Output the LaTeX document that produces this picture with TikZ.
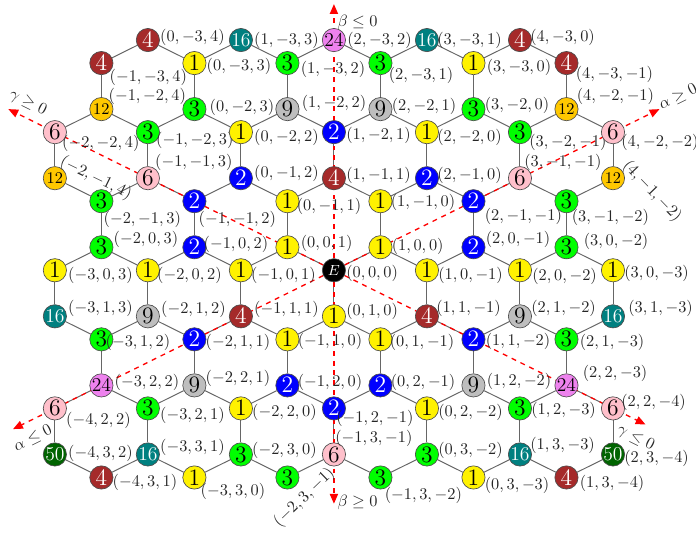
\documentclass[tikz,border=0pt]{standalone}
\usepackage{amsmath}
\usetikzlibrary{arrows.meta, backgrounds}
\definecolor{hexbrown}{RGB}{165,42,42}
\definecolor{hexpink}{RGB}{255,192,203}
\definecolor{hexgray}{RGB}{190,190,190}
\definecolor{hexgold}{RGB}{255,200,0}
\definecolor{hexviolet}{RGB}{238,130,238}
\definecolor{hexdkgreen}{RGB}{0,100,0}
\tikzset{
  hex node/.style={
    circle, draw=black!70, line width=0.4pt,
    minimum size=0.5cm, inner sep=0pt
  },
  hex v1/.style={hex node, fill=yellow, font=\Large},
  hex v2/.style={hex node, fill=blue, text=white, font=\Large},
  hex v3/.style={hex node, fill=green, font=\Large},
  hex v4/.style={hex node, fill=hexbrown, text=white, font=\Large},
  hex v6/.style={hex node, fill=hexpink, font=\Large},
  hex v9/.style={hex node, fill=hexgray, font=\Large},
  hex v12/.style={hex node, fill=hexgold, font=\normalsize},
  hex v16/.style={hex node, fill=teal, text=white, font=\large},
  hex v24/.style={hex node, fill=hexviolet, font=\large},
  hex v50/.style={hex node, fill=hexdkgreen, text=white, font=\large},
  hex vE/.style={hex node, fill=black, text=white, font=\small},
  hex link/.style={draw=black!60, line width=0.6pt},
  hex label/.style={anchor=west, inner sep=0pt, text=black!85},
  hex axis/.style={red, dashed, line width=0.8pt, -{Triangle[length=6pt,width=5pt]}},
  axis label/.style={inner sep=0pt, text=black!85}
}
% vertices: a/b/c/value/label dx/label dy (px)/label rotation
\def\hexlist{%
 0/-3/4/4/12/-3/0, 1/-3/3/16/13/0/0, 2/-3/2/24/13/0/0, 3/-3/1/16/10/0/0, 4/-3/0/4/10/-3/0,
 -1/-3/4/4/8/14/0, 0/-3/3/1/12/3/0, 1/-3/2/3/13/6/0, 2/-3/1/3/8/12/0, 3/-3/0/1/13/4/0, 4/-3/-1/4/9/11/0,
 -1/-2/4/12/7/-13/0, 0/-2/3/3/15/-2/0, 1/-2/2/9/14/-6/0, 2/-2/1/9/11/-3/0, 3/-2/0/3/11/-4/0, 4/-2/-1/12/10/-13/0,
 -2/-2/4/6/7/11/0, -1/-2/3/3/8/8/0, 0/-2/2/1/13/5/0, 1/-2/1/2/12/3/0, 2/-2/0/1/10/5/0, 3/-2/-1/3/9/10/0, 4/-2/-2/6/8/10/0,
 -2/-1/4/12/6/-17/-26, -1/-1/3/6/7/-16/0, 0/-1/2/2/13/-5/0, 1/-1/1/4/12/-3/0, 2/-1/0/2/10/-3/0, 3/-1/-1/6/4/-16/0, 4/-1/-2/12/12/-15/-46,
 -2/-1/3/3/2/18/0, -1/-1/2/2/4/18/0, 0/-1/1/1/9/5/0, 1/-1/0/1/10/1/0, 2/-1/-1/2/11/15/0, 3/-1/-2/3/5/16/0,
 -2/0/3/3/12/-8/0, -1/0/2/2/9/-3/0, 0/0/1/1/13/-4/0, 1/0/0/1/11/-1/0, 2/0/-1/2/12/-8/0, 3/0/-2/3/17/-6/0,
 -3/0/3/1/13/5/0, -2/0/2/1/9/5/0, -1/0/1/1/10/5/0, 0/0/0/E/12/3/0, 1/0/-1/1/11/5/0, 2/0/-2/1/12/6/0, 3/0/-3/1/11/3/0,
 -3/1/3/16/13/-8/0, -2/1/2/9/13/-7/0, -1/1/1/4/13/-7/0, 0/1/0/1/12/-5/0, 1/1/-1/4/9/-8/0, 2/1/-2/9/11/-8/0, 3/1/-3/16/15/-8/0,
 -3/1/2/3/4/3/0, -2/1/1/2/11/3/0, -1/1/0/1/10/2/0, 0/1/-1/1/9/3/0, 1/1/-2/2/12/2/0, 2/1/-3/3/13/3/0,
 -3/2/2/24/13/-3/0, -2/2/1/9/11/-7/0, -1/2/0/2/10/-3/0, 0/2/-1/2/10/-3/0, 1/2/-2/9/13/-4/0, 2/2/-3/24/16/-12/0,
 -4/2/2/6/11/12/0, -3/2/1/3/12/7/0, -2/2/0/1/11/4/0, -1/2/-1/2/2/10/0, 0/2/-2/1/11/4/0, 1/2/-3/3/11/2/0, 2/2/-4/6/8/-6/0,
 -4/3/2/50/13/-1/0, -3/3/1/16/12/-7/0, -2/3/0/3/11/-4/0, -1/3/-1/6/1/-16/0, 0/3/-2/3/11/-4/0, 1/3/-3/16/10/-9/0, 2/3/-4/50/11/4/0,
 -4/3/1/4/11/5/0, -3/3/0/1/6/14/0, -2/3/-1/3/-11/47/44, -1/3/-2/3/4/18/0, 0/3/-3/1/11/8/0, 1/3/-4/4/13/6/0}
\begin{document}
\begin{tikzpicture}[x=1cm, y=0.99cm]
\useasboundingbox (-7.18,-5.74) rectangle (7.785,5.87);

% ====== lattice points with their labels ======
\foreach \a/\b/\c/\v/\dx/\dy/\r in \hexlist {
  \node[hex v\v] (n\a\b\c) at ({\a-\c},{(\a+\c)/2-\b}) {$\v$};
  \node[hex label, rotate=\r] (l\a\b\c)
    at ([xshift=\dx*0.612pt, yshift={-(\dy)*0.612pt}]n\a\b\c.center) {$(\a,\b,\c)$};
}

\begin{scope}[on background layer]
% ====== links: from each even point to its three neighbours ======
\foreach \a/\b/\c/\v/\dx/\dy/\r in \hexlist {
  \pgfmathtruncatemacro\hsum{\a+\b+\c}
  \ifnum\hsum=0
    \pgfmathtruncatemacro\ap{\a+1}
    \pgfmathtruncatemacro\bp{\b+1}
    \pgfmathtruncatemacro\cp{\c+1}
    \ifcsname pgf@sh@ns@n\ap\b\c\endcsname \draw[hex link] (n\a\b\c) -- (n\ap\b\c); \fi
    \ifcsname pgf@sh@ns@n\a\bp\c\endcsname \draw[hex link] (n\a\b\c) -- (n\a\bp\c); \fi
    \ifcsname pgf@sh@ns@n\a\b\cp\endcsname \draw[hex link] (n\a\b\c) -- (n\a\b\cp); \fi
  \fi
}

% ====== dashed axes through E ======
\coordinate (bTop) at (0,5.78);
\coordinate (bBot) at (0,-5.07);
\coordinate (gTop) at (-7,3.5);
\coordinate (gBot) at (6.7,-3.35);
\coordinate (aTop) at (7,3.5);
\coordinate (aBot) at (-6.9,-3.45);
\draw[hex axis] (n000) -- (bTop);
\draw[hex axis] (n000) -- (bBot);
\draw[hex axis] (n000) -- (gTop);
\draw[hex axis] (n000) -- (gBot);
\draw[hex axis] (n000) -- (aTop);
\draw[hex axis] (n000) -- (aBot);
\end{scope}

\node[axis label, anchor=west] (bLo) at (0.07,5.38) {$\beta\le 0$};
\node[axis label, anchor=west] (bHi) at (0.07,-5.04) {$\beta\ge 0$};
\node[axis label, rotate=-26.3] (gHi) at (-6.58,3.63) {$\gamma\ge 0$};
\node[axis label, rotate=-26.3] (gLo) at (6.49,-3.65) {$\gamma\le 0$};
\node[axis label, rotate=26.3] (aHi) at (7.40,3.76) {$\alpha\ge 0$};
\node[axis label, rotate=26.3] (aLo) at (-6.47,-3.65) {$\alpha\le 0$};

\end{tikzpicture}
\end{document}
